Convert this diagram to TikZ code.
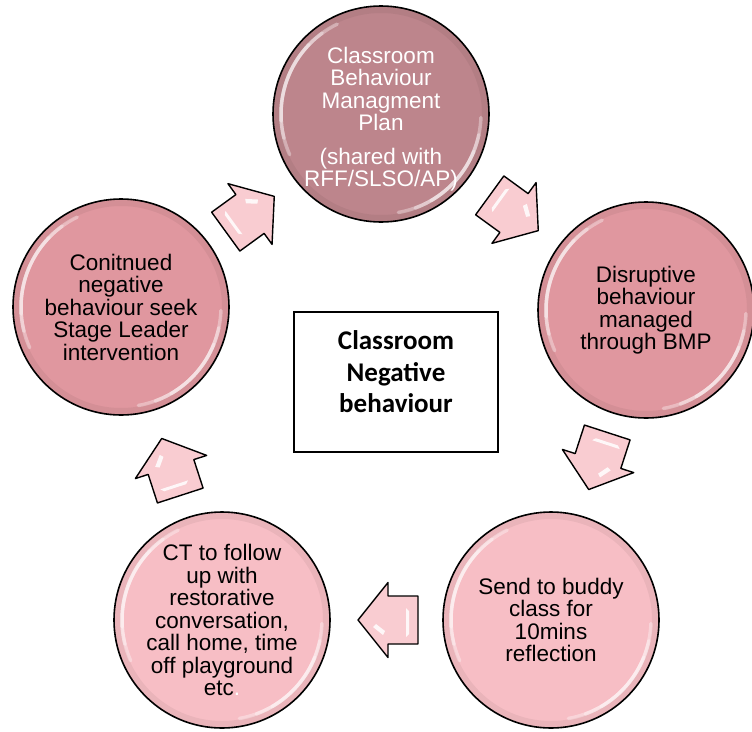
\documentclass[tikz,border=0pt]{standalone}
\usepackage{fontspec}
\setmainfont{Liberation Sans}
\newfontfamily\boxfont{Carlito}
\usetikzlibrary{calc}

\definecolor{plumrose}{HTML}{BD858C}
\definecolor{midrose}{HTML}{E0979F}
\definecolor{lightrose}{HTML}{F7BEC5}
\definecolor{arrowpink}{HTML}{F9CCD1}

% rim shading and gloss streaks of a stage circle
\newcommand{\glossy}{%
  \draw[black, opacity=.05, line width=8pt] (path picture bounding box.center) circle[radius=105pt];
  \foreach \a/\b in {116/204,126/194,136/184}{
    \draw[shine] ([shift={(\a:100pt)}]path picture bounding box.center)
      arc[start angle=\a, end angle=\b, radius=100pt];
  }
  \foreach \a/\b in {-80/-2,-70/-12,-60/-22}{
    \draw[shine] ([shift={(\a:100pt)}]path picture bounding box.center)
      arc[start angle=\a, end angle=\b, radius=100pt];
  }
}

\tikzset{
  stage/.style={circle, draw=black, line width=1.6pt, minimum size=216pt,
    inner sep=0pt, align=center, font=\fontsize{22.5}{22.5}\selectfont,
    path picture={\glossy}},
  stagetext/.style={align=center, font=\fontsize{22.5}{22.5}\selectfont},
  hubbox/.style={draw=black, line width=1.3pt, fill=white,
    minimum width=204pt, minimum height=140pt},
  hubtext/.style={align=center, font=\boxfont\bfseries\fontsize{27}{31.5}\selectfont},
  arrowline/.style={draw=black, line width=1.4pt, fill=arrowpink, line join=round},
  shine/.style={white, line cap=round, opacity=.35, line width=3.5pt},
  pics/blockarrow/.style={code={
    \path[arrowline] (30,0) -- (0,37.5) -- (0,24) -- (-30,24) -- (-30,-24)
      -- (0,-24) -- (0,-37.5) -- cycle;
    \fill[white, opacity=.85] (5,-15) -- (15,-7) -- (12,-4) -- (3,-11) -- cycle;
    \fill[white, opacity=.85] (-21,-14) -- (-18,-17) -- (-18,12) -- (-21,9) -- cycle;
  }}
}

\begin{document}
\begin{tikzpicture}[x=1pt, y=-1pt]
\useasboundingbox (0,0) rectangle (752,731);

% five stages of the cycle
\node[stage, fill=plumrose] (plan) at (381,114) {};
\node[stagetext, text=white] (plantext) at ($(plan.center)+(0,5)$)
  {Classroom\\Behaviour\\Managment\\Plan\\[11pt](shared with\\RFF/SLSO/AP)};
\node[stage, fill=midrose] (bmp) at (646,310)
  {Disruptive\\behaviour\\managed\\through BMP};
\node[stage, fill=lightrose] (buddy) at (551,620)
  {Send to buddy\\class for\\10mins\\reflection};
\node[stage, fill=lightrose] (follow) at (222,620)
  {CT to follow\\up with\\restorative\\conversation,\\call home, time\\off playground\\etc\textcolor{white}{.}};
\node[stage, fill=midrose] (leader) at (121,307)
  {Conitnued\\negative\\behaviour seek\\Stage Leader\\intervention};

% centre box
\node[hubbox] (hub) at (396,382) {};
\node[hubtext] (hublabel) at ($(hub.center)+(0,-10)$) {Classroom\\Negative\\behaviour};

% block arrows, clockwise
\pic[rotate=36]   (a1) at (250,214) {blockarrow};
\pic[rotate=-36]  (a2) at (514,213) {blockarrow};
\pic[rotate=-108] (a3) at (598,461) {blockarrow};
\pic[rotate=180]  (a4) at (388,620) {blockarrow};
\pic[rotate=108]  (a5) at (171,467) {blockarrow};
\end{tikzpicture}
\end{document}
